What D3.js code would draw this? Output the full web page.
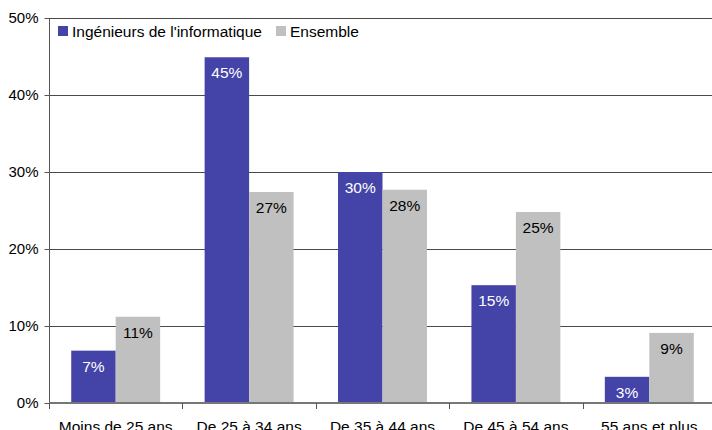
<!DOCTYPE html>
<html><head><meta charset="utf-8">
<script src="https://cdn.jsdelivr.net/npm/d3@7"></script>
<style>body{margin:0;background:#fff;overflow:hidden}svg{display:block}text{font-family:"Liberation Sans",Arial,Helvetica,sans-serif}</style>
</head><body>
<svg id="c" width="712" height="430"></svg>
<script>
const categories = ["Moins de 25 ans","De 25 à 34 ans","De 35 à 44 ans","De 45 à 54 ans","55 ans et plus"];
const seriesNames = ["Ingénieurs de l'informatique","Ensemble"];
const ingenieurs = [6.8, 44.9, 30.0, 15.3, 3.4];
const ensemble = [11.2, 27.4, 27.7, 24.8, 9.1];
const yTicks = [0,10,20,30,40,50];
const colors = ["#4343A8","#C0C0C0"];
const labelColors = ["#ffffff","#000000"];

(function(){
const svg = d3.select("#c");
const mL = 49, mR = 716, mT = 18, mB = 403;
const fs = 15.5;
const x = d3.scaleBand().domain(categories).range([mL,mR]).paddingInner(0).paddingOuter(0);
const xs = d3.scaleBand().domain(seriesNames).range([0,x.bandwidth()]).paddingInner(0).paddingOuter(0.5);
const y = d3.scaleLinear().domain([0,50]).range([mB,mT]);

svg.append("g").selectAll("line").data(yTicks.filter(d=>d>0)).join("line")
  .attr("x1",mL).attr("x2",712).attr("y1",d=>Math.round(y(d))+0.5).attr("y2",d=>Math.round(y(d))+0.5)
  .attr("stroke","#4a4a4a").attr("stroke-width",1);

const data = categories.map((c,i)=>({c, vals:[ingenieurs[i], ensemble[i]]}));
const g = svg.append("g").selectAll("g").data(data).join("g").attr("transform",d=>`translate(${x(d.c)},0)`);
g.selectAll("rect").data(d=>d.vals.map((v,j)=>({v,j}))).join("rect")
  .attr("x",d=>xs(seriesNames[d.j])).attr("width",xs.bandwidth())
  .attr("y",d=>y(d.v)).attr("height",d=>y(0)-y(d.v)).attr("fill",d=>colors[d.j]);
g.selectAll("text").data(d=>d.vals.map((v,j)=>({v,j}))).join("text")
  .attr("x",d=>xs(seriesNames[d.j])+xs.bandwidth()/2).attr("y",d=>y(d.v)+21)
  .attr("text-anchor","middle").attr("font-size",fs).attr("fill",d=>labelColors[d.j])
  .text(d=>Math.round(d.v)+"%");

const ya = svg.append("g").attr("transform",`translate(${mL+0.5},0)`)
  .call(d3.axisLeft(y).tickValues(yTicks).tickFormat(d=>d+"%").tickSize(5).tickPadding(6));
ya.select(".domain").attr("stroke","#555").attr("d",`M0,${mT}V${mB}`);
ya.selectAll(".tick line").attr("stroke","#555");
ya.selectAll(".tick text").attr("font-size",15).attr("fill","#000").attr("font-family","Liberation Sans, Arial, sans-serif");

svg.append("line").attr("x1",mL).attr("x2",712).attr("y1",mB).attr("y2",mB)
  .attr("stroke","#777").attr("stroke-width",2);
svg.append("g").selectAll("line").data(categories).join("line")
  .attr("x1",d=>Math.round(x(d))+0.5).attr("x2",d=>Math.round(x(d))+0.5).attr("y1",mB).attr("y2",mB+6)
  .attr("stroke","#555");
svg.append("g").selectAll("text").data(categories).join("text")
  .attr("x",d=>x(d)+x.bandwidth()/2).attr("y",432).attr("text-anchor","middle")
  .attr("font-size",fs).attr("fill","#000").text(d=>d);

const leg = svg.append("g");
const legX = [58, 276];
seriesNames.forEach((n,i)=>{
  leg.append("rect").attr("x",legX[i]).attr("y",26).attr("width",10).attr("height",10).attr("fill",colors[i]);
  leg.append("text").attr("x",legX[i]+14).attr("y",37).attr("font-size",fs).attr("fill","#000").text(n);
});
})();
</script>
</body></html>
